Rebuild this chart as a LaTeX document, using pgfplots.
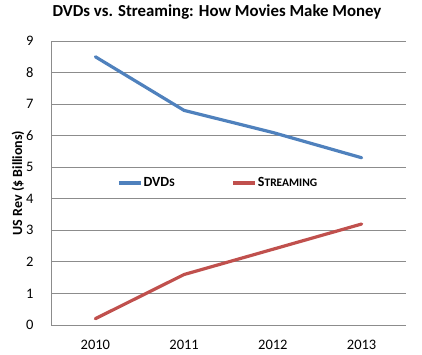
\documentclass[border=0pt]{standalone}
\usepackage{pgfplots}
\pgfplotsset{compat=1.18}
\usepackage{fontspec}
\setmainfont{Carlito}
\definecolor{dvdblue}{HTML}{4F81BD}
\definecolor{strred}{HTML}{C0504D}
\definecolor{gridgray}{HTML}{8C8C8C}
\begin{document}
\begin{tikzpicture}
\useasboundingbox (0,0) rectangle (422pt,355pt);
\begin{axis}[
  at={(51pt,30pt)}, anchor=south west,
  scale only axis, width=355pt, height=284pt,
  xmin=-0.5, xmax=3.5, ymin=0, ymax=9,
  xtick={0,1,2,3}, xticklabels={2010,2011,2012,2013},
  ytick={0,1,...,9},
  axis x line*=bottom, axis y line*=left,
  axis line style={gridgray, line width=0.8pt, -},
  ymajorgrids, major grid style={gridgray, line width=0.8pt},
  major tick length=0pt,
  /pgf/number format/assume math mode=true,
  tick label style={font=\fontsize{14.5}{16}\selectfont},
  xticklabel style={anchor=base, yshift=-25pt},
  yticklabel style={anchor=east, xshift=-14pt},
  title={DVDs vs. Streaming: How Movies Make Money},
  title style={font=\fontsize{16.8}{18}\selectfont\bfseries, at={(0.5,1)}, anchor=base, yshift=18pt, xshift=-11.5pt},
  ylabel={US Rev (\$ Billions)},
  ylabel style={font=\fontsize{14}{16}\selectfont\bfseries, at={(axis description cs:0,0.5)}, anchor=center, rotate=0, yshift=33pt},
  legend columns=2,
  legend style={draw=none, fill=none, at={(0.178,0.5)}, anchor=west,
    nodes={inner sep=1pt, font=\fontsize{14}{16}\selectfont\bfseries},
    /tikz/every even column/.append style={column sep=56pt}},
  legend image code/.code={\draw[#1, line cap=butt] (0pt,0pt) -- (22pt,0pt);},
]
\addplot[dvdblue, line width=3.2pt, line cap=round, line join=round] coordinates {(0,8.5) (1,6.8) (2,6.1) (3,5.3)};
\addlegendentry{DVD{\fontsize{11.5}{12}\selectfont S}}
\addplot[strred, line width=3.2pt, line cap=round, line join=round] coordinates {(0,0.2) (1,1.6) (2,2.4) (3,3.2)};
\addlegendentry{S{\fontsize{11.5}{12}\selectfont TREAMING}}
\end{axis}
\end{tikzpicture}
\end{document}
